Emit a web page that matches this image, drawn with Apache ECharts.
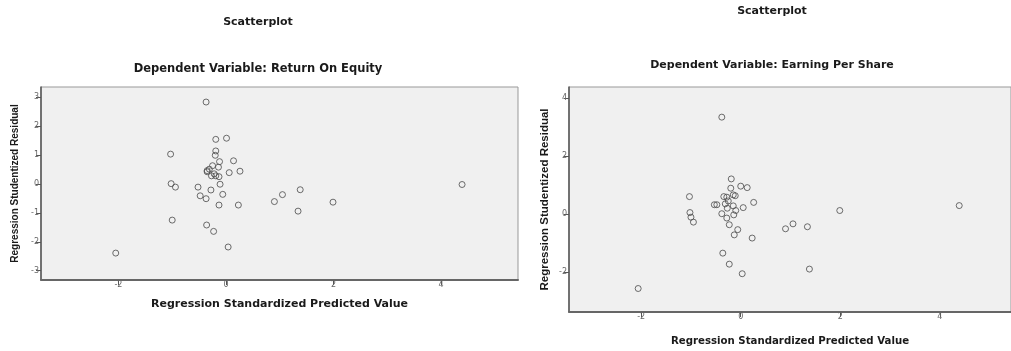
<!DOCTYPE html>
<html>
<head>
<meta charset="utf-8">
<script src="https://cdn.jsdelivr.net/npm/echarts@6/dist/echarts.min.js"></script>
<style>
html,body{margin:0;padding:0;background:#fff;}
#c{width:1011px;height:351px;}
</style>
</head>
<body>
<div id="c"></div>
<script>
// Left chart: Dependent Variable: Return On Equity  [predicted, residual]
const roePredicted = [-0.37,-1.03,-1.02,-0.94,-1.00,-2.05,-0.52,-0.48,-0.37,-0.28,-0.36,-0.23,-0.19,0.01,-0.19,-0.20,-0.12,0.14,-0.25,-0.14,-0.35,-0.31,-0.35,-0.27,-0.19,-0.13,0.06,0.26,-0.11,-0.06,-0.13,0.23,0.04,0.90,1.05,1.38,1.34,1.99,4.39,-0.22];
const roeResidual  = [2.83,1.03,0.01,-0.11,-1.25,-2.39,-0.11,-0.41,-0.51,-0.21,-1.42,-1.64,1.54,1.58,1.14,0.99,0.77,0.80,0.63,0.58,0.46,0.51,0.42,0.28,0.28,0.25,0.39,0.44,-0.01,-0.36,-0.73,-0.73,-2.18,-0.61,-0.37,-0.20,-0.94,-0.63,-0.02,0.35];
// Right chart: Dependent Variable: Earning Per Share
const epsPredicted = [-0.38,-1.03,-1.02,-1.00,-0.95,-2.06,-0.53,-0.48,-0.38,-0.28,-0.23,-0.13,-0.06,0.23,-0.36,-0.23,0.03,-0.19,-0.20,0.00,0.13,-0.34,-0.28,-0.15,-0.11,-0.25,-0.31,-0.15,-0.27,-0.10,0.05,0.26,-0.14,0.90,1.05,1.34,1.38,1.99,4.39];
const epsResidual  = [3.34,0.60,0.05,-0.11,-0.28,-2.57,0.32,0.32,0.01,-0.14,-0.37,-0.72,-0.54,-0.83,-1.35,-1.73,-2.06,1.21,0.89,0.96,0.91,0.60,0.58,0.66,0.63,0.45,0.35,0.28,0.20,0.12,0.22,0.40,-0.03,-0.51,-0.34,-0.44,-1.90,0.12,0.29];

const xTicksLeft = [-2,0,2,4];
const yTicksLeft = [-3,-2,-1,0,1,2,3];
const xTicksRight = [-2,0,2,4];
const yTicksRight = [-2,0,2,4];

const mainTitle = 'Scatterplot';
const subTitleLeft = 'Dependent Variable: Return On Equity';
const subTitleRight = 'Dependent Variable: Earning Per Share';
const xName = 'Regression Standardized Predicted Value';
const yName = 'Regression Studentized Residual';

function pairs(xs, ys){ return xs.map((x,i)=>[x, ys[i]]); }

function tfont(size){ return {fontFamily:'DejaVu Sans', fontWeight:'bold', fontSize:size, color:'#1a1a1a'}; }
const labelStyle = {color:'#666', fontSize:8, fontFamily:'DejaVu Sans'};

function xAxis(gi, ticks, min, max, nameSize, gap){
  return {
    type:'value', gridIndex:gi, min:min, max:max,
    name:xName, nameLocation:'middle', nameGap:gap,
    nameTextStyle:{fontFamily:'DejaVu Sans', fontWeight:'bold', fontSize:nameSize, color:'#1a1a1a'},
    axisLine:{show:true, onZero:false, lineStyle:{color:'#666', width:2}},
    axisTick:{show:true, length:5, customValues:ticks, lineStyle:{color:'#555', width:1}},
    axisLabel:Object.assign({customValues:ticks, margin:1}, labelStyle),
    splitLine:{show:false}
  };
}
function yAxis(gi, ticks, min, max, nameSize, gap){
  return {
    type:'value', gridIndex:gi, min:min, max:max,
    name:yName, nameLocation:'middle', nameGap:gap, nameRotate:90,
    nameTextStyle:{fontFamily:'Liberation Sans', fontWeight:'bold', fontSize:nameSize, color:'#1a1a1a'},
    axisLine:{show:true, onZero:false, lineStyle:{color:'#555', width:1.5}},
    axisTick:{show:true, length:5, customValues:ticks, lineStyle:{color:'#555', width:1}},
    axisLabel:Object.assign({customValues:ticks, margin:2}, labelStyle),
    splitLine:{show:false}
  };
}
const scatterStyle = {color:'rgba(0,0,0,0)', borderColor:'#4a4a4a', borderWidth:1};

const chart = echarts.init(document.getElementById('c'), null, {renderer:'canvas'});
chart.setOption({
  animation:false,
  backgroundColor:'#fff',
  title:[
    {text:mainTitle, left:258, top:17, textAlign:'center', padding:0, textStyle:tfont(11)},
    {text:subTitleLeft, left:258, top:63, textAlign:'center', padding:0, textStyle:tfont(11.5)},
    {text:mainTitle, left:772, top:6, textAlign:'center', padding:0, textStyle:tfont(11)},
    {text:subTitleRight, left:772, top:60, textAlign:'center', padding:0, textStyle:tfont(11)}
  ],
  grid:[
    {left:41, top:87, width:477, height:193, show:true, backgroundColor:'#f0f0f0', borderColor:'#999', borderWidth:1, containLabel:false},
    {left:569, top:87, width:446, height:225, show:true, backgroundColor:'#f0f0f0', borderColor:'#999', borderWidth:1, containLabel:false}
  ],
  xAxis:[
    xAxis(0, xTicksLeft, -3.44, 5.43, 11, 19),
    xAxis(1, xTicksRight, -3.45, 5.43, 10.2, 24)
  ],
  yAxis:[
    yAxis(0, yTicksLeft, -3.32, 3.35, 10, 21),
    yAxis(1, yTicksRight, -3.38, 4.38, 11.5, 18)
  ],
  series:[
    {type:'scatter', xAxisIndex:0, yAxisIndex:0, data:pairs(roePredicted, roeResidual), symbol:'circle', symbolSize:6, itemStyle:scatterStyle},
    {type:'scatter', xAxisIndex:1, yAxisIndex:1, data:pairs(epsPredicted, epsResidual), symbol:'circle', symbolSize:6, itemStyle:scatterStyle}
  ]
});
</script>
</body>
</html>
